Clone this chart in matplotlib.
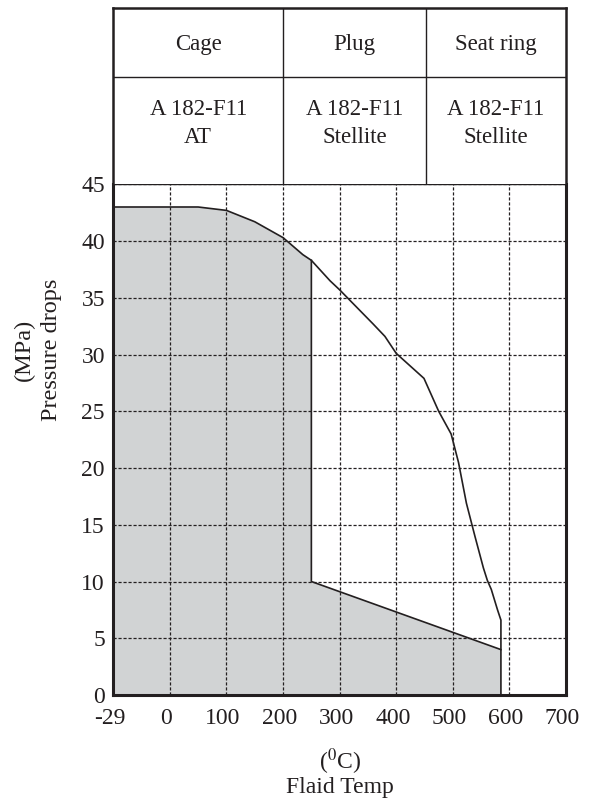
import matplotlib
matplotlib.use('Agg')
import matplotlib.pyplot as plt
import matplotlib.transforms as mtransforms

plt.rcParams['font.family'] = ['Liberation Serif', 'DejaVu Serif']
plt.rcParams['mathtext.fontset'] = 'stix'

# rated pressure curve (temperature position, MPa); -100 stands for -29 degC
curve_temp = [-100, 50, 100, 150, 200, 235, 250, 283, 300, 359, 380, 400, 449,
              475, 497, 510, 524, 539, 554, 561, 568, 579, 585, 585]
curve_p = [43, 43, 42.7, 41.7, 40.3, 38.8, 38.3, 36.5, 35.7, 32.7, 31.6, 30.1, 27.9,
           25.0, 23.0, 20.5, 16.9, 14.0, 11.2, 10.1, 9.3, 7.5, 6.6, 4.0]

# lower edge of the grey area (cage limit)
cage_temp = [250, 250, 585, 585]
cage_p = [38.3, 10, 4, 0]

x_ticks = [-100, 0, 100, 200, 300, 400, 500, 600, 700]
x_labels = ['-29', '0', '100', '200', '300', '400', '500', '600', '700']
y_ticks = [0, 5, 10, 15, 20, 25, 30, 35, 40, 45]

parts = ['Cage', 'Plug', 'Seat ring']
materials = ['A 182-F11\nAT', 'A 182-F11\nStellite', 'A 182-F11\nStellite']
col_edges = [-100, 200, 453, 700]

W, H = 590, 799
ink = '#231f20'
fig = plt.figure(figsize=(W / 100, H / 100), dpi=100)
left, right, top, bot = 113.3, 566, 184.3, 695
ax = fig.add_axes([left / W, 1 - bot / H, (right - left) / W, (bot - top) / H])

# grey area
n = curve_temp.index(250)
poly_x = [-100] + curve_temp[:n + 1] + cage_temp[1:]
poly_y = [0] + curve_p[:n + 1] + cage_p[1:]
ax.fill(poly_x, poly_y, color='#d1d3d4', zorder=1, lw=0)
ax.plot(curve_temp, curve_p, color=ink, lw=1.2, zorder=3)
ax.plot(cage_temp, cage_p, color=ink, lw=1.2, zorder=3)

ax.set_xlim(-100, 700)
ax.set_ylim(0, 45)
ax.set_xticks(x_ticks)
ax.set_xticklabels(x_labels)
ax.set_yticks(y_ticks)
ax.tick_params(length=0, labelsize=17, colors=ink)
ax.tick_params(axis='x', pad=9.5)
ax.tick_params(axis='y', pad=6)
shift = mtransforms.ScaledTranslation(-3.5 / 100, 0, fig.dpi_scale_trans)
for lab in ax.get_xticklabels():
    lab.set_transform(lab.get_transform() + shift)
ax.set_axisbelow(False)
ax.grid(True, color=ink, lw=0.9, ls=(0, (2.5, 1.5)))
for s in ['left', 'bottom', 'right']:
    ax.spines[s].set_linewidth(2.2)
    ax.spines[s].set_color(ink)
ax.spines['top'].set_linewidth(1.0)
ax.spines['top'].set_color(ink)

# table above the chart
tab = fig.add_axes([left / W, 1 - top / H, (right - left) / W, (top - 7.5) / H])
tab.set_xlim(-100, 700)
tab.set_ylim(0, 1)
tab.set_xticks([]), tab.set_yticks([])
for s in ['left', 'top', 'right']:
    tab.spines[s].set_linewidth(1.8)
    tab.spines[s].set_color(ink)
tab.spines['bottom'].set_visible(False)
tab.axhline(0.608, color=ink, lw=1.0)
for xe in col_edges[1:-1]:
    tab.axvline(xe, color=ink, lw=1.0)
for i in range(3):
    xc = (col_edges[i] + col_edges[i + 1]) / 2
    tab.text(xc, 0.79, parts[i], ha='center', va='center', fontsize=16.5, color=ink)
    tab.text(xc, 0.345, materials[i], ha='center', va='center', fontsize=16.5,
             color=ink, linespacing=1.45, multialignment='center')

# axis titles
fig.text(24 / W, 1 - 350 / H, '(MPa)', rotation=90, ha='center', va='center',
         fontsize=17.5, color=ink)
fig.text(51 / W, 1 - 350 / H, 'Pressure drops', rotation=90, ha='center', va='center',
         fontsize=17.5, color=ink)
fig.text(340 / W, 1 - 762 / H, r'($^{0}$C)', ha='center', va='center',
         fontsize=17, color=ink)
fig.text(340 / W, 1 - 788 / H, 'Flaid Temp', ha='center', va='center',
         fontsize=17, color=ink)

plt.savefig('out.png', dpi=100)
